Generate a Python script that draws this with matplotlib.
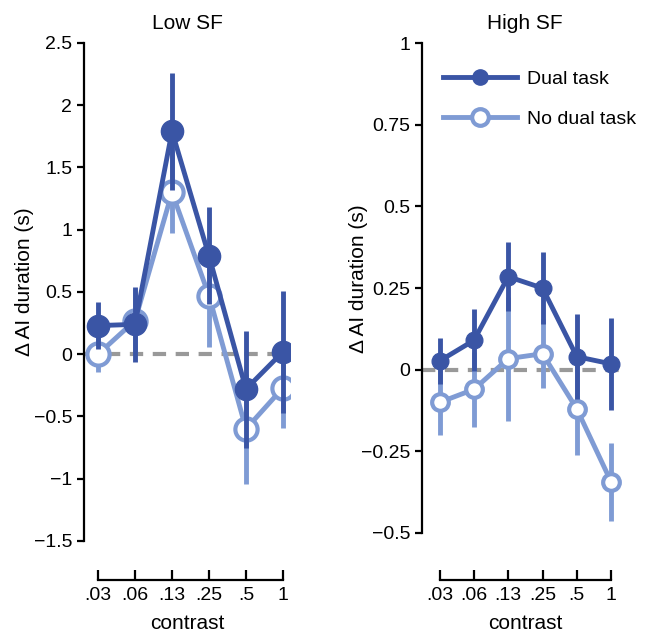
import matplotlib
matplotlib.use("Agg")
import matplotlib.pyplot as plt
from matplotlib.lines import Line2D

# contrast levels (evenly spaced categories)
contrast_labels = [".03", ".06", ".13", ".25", ".5", "1"]

# Low SF panel
low_dual = [0.23, 0.24, 1.79, 0.79, -0.28, 0.02]
low_dual_err = [0.19, 0.30, 0.47, 0.39, 0.47, 0.49]
low_nodual = [0.00, 0.27, 1.30, 0.47, -0.60, -0.27]
low_nodual_err = [0.14, 0.25, 0.33, 0.41, 0.44, 0.32]

# High SF panel
high_dual = [0.027, 0.09, 0.285, 0.25, 0.04, 0.018]
high_dual_err = [0.07, 0.095, 0.105, 0.11, 0.13, 0.14]
high_nodual = [-0.10, -0.06, 0.034, 0.049, -0.12, -0.343]
high_nodual_err = [0.10, 0.115, 0.19, 0.105, 0.14, 0.12]

low_yticks = [-1.5, -1, -0.5, 0, 0.5, 1, 1.5, 2, 2.5]
low_yticklabels = ["\u22121.5", "\u22121", "\u22120.5", "0", "0.5", "1", "1.5", "2", "2.5"]
high_yticks = [-0.5, -0.25, 0, 0.25, 0.5, 0.75, 1]
high_yticklabels = ["\u22120.5", "\u22120.25", "0", "0.25", "0.5", "0.75", "1"]

dark = "#3a55a5"
light = "#7f9bd4"

plt.rcParams['font.family'] = ['Liberation Sans', 'DejaVu Sans']

fig = plt.figure(figsize=(6.51, 6.36), dpi=100)
ax1 = fig.add_axes([0.129, 0.1494, 0.317, 0.783])
ax2 = fig.add_axes([0.648, 0.162, 0.317, 0.770])


def draw_panel(ax, dual, dual_err, nodual, nodual_err, ms, xlim, ylim,
               yticks, yticklabels, outward, title, label_x):
    x = list(range(len(contrast_labels)))
    ax.axhline(0, color="#999999", lw=3, dashes=(3.2, 2.3), zorder=1)
    ax.errorbar(x, nodual, yerr=nodual_err, color=light, lw=3.5, elinewidth=3.5,
                capsize=0, marker="o", ms=ms, mfc="white", mec=light, mew=3,
                zorder=2)
    ax.errorbar(x, dual, yerr=dual_err, color=dark, lw=3.5, elinewidth=3.5,
                capsize=0, marker="o", ms=ms, mfc=dark, mec=dark,
                zorder=3)
    ax.set_xlim(*xlim)
    ax.set_ylim(*ylim)
    ax.set_xticks(x)
    ax.set_xticklabels(contrast_labels)
    ax.set_yticks(yticks)
    ax.set_yticklabels(yticklabels)
    for s in ["top", "right"]:
        ax.spines[s].set_visible(False)
    ax.spines["left"].set_linewidth(1.6)
    ax.spines["bottom"].set_linewidth(1.6)
    ax.spines["bottom"].set_position(("outward", outward))
    ax.spines["bottom"].set_bounds(0, 5)
    ax.tick_params(axis="y", direction="out", length=5, width=1.6, labelsize=14)
    ax.tick_params(axis="x", direction="in", length=7, width=1.6, labelsize=14, pad=5)
    ax.set_xlabel("contrast", fontsize=15, labelpad=7)
    ax.set_ylabel("\u0394 AI duration (s)", fontsize=15)
    ax.yaxis.set_label_coords(label_x, 0.52)
    ax.set_title(title, fontsize=15, pad=10)


draw_panel(ax1, low_dual, low_dual_err, low_nodual, low_nodual_err, 16,
           (-0.38, 5.2), (-1.5, 2.5), low_yticks, low_yticklabels, 28, "Low SF", -0.243)
draw_panel(ax2, high_dual, high_dual_err, high_nodual, high_nodual_err, 12,
           (-0.52, 5.5), (-0.5, 1.0), high_yticks, high_yticklabels, 34, "High SF", -0.262)

handles = [
    Line2D([], [], color=dark, lw=3.5, marker="o", ms=11, mfc=dark, mec=dark),
    Line2D([], [], color=light, lw=3.5, marker="o", ms=12, mfc="white", mec=light, mew=3),
]
ax2.legend(handles, ["Dual task", "No dual task"], loc="upper left",
           bbox_to_anchor=(0.02, 0.98), frameon=False, fontsize=14,
           handlelength=3.8, labelspacing=1.15, handletextpad=0.5)

fig.savefig("out.png", dpi=100)
